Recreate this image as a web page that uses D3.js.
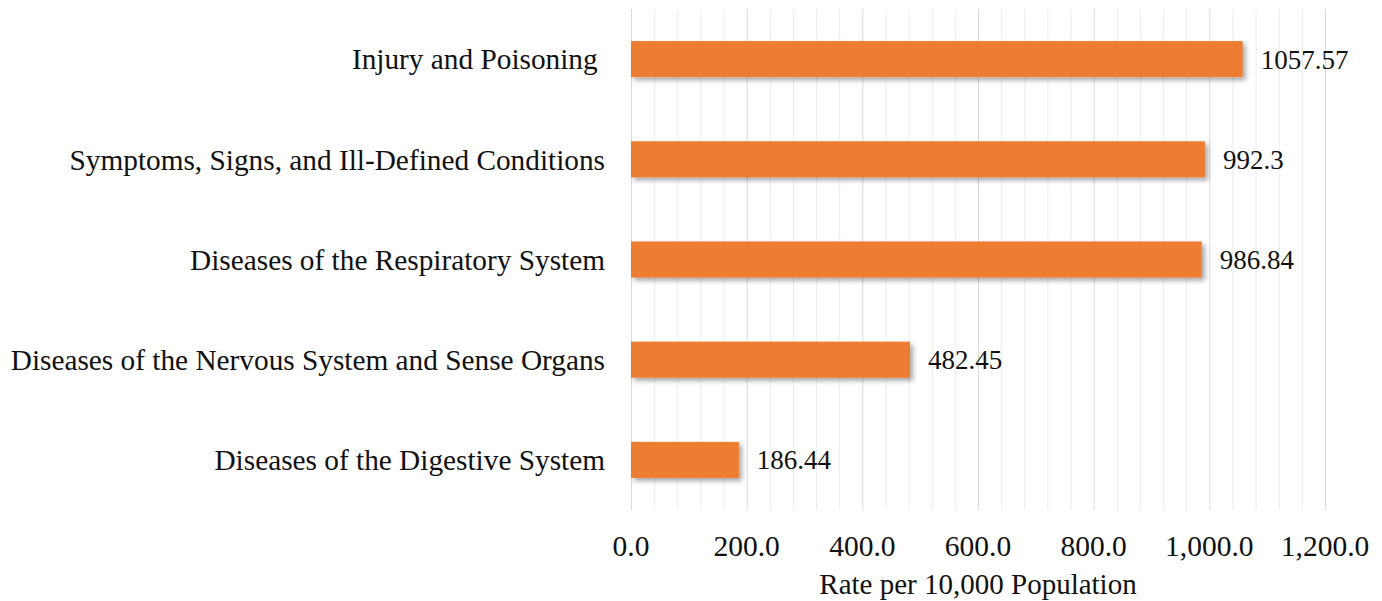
<!DOCTYPE html>
<html>
<head>
<meta charset="utf-8">
<script src="https://cdn.jsdelivr.net/npm/d3@7"></script>
<style>
  body { margin: 0; background: #fff; }
  text { font-family: "Liberation Serif", "Times New Roman", serif; fill: #111; white-space: pre; }
</style>
</head>
<body>
<svg id="chart" width="1382" height="601"></svg>
<script>
var categories = ["Injury and Poisoning ",
                  "Symptoms, Signs, and Ill-Defined Conditions",
                  "Diseases of the Respiratory System",
                  "Diseases of the Nervous System and Sense Organs",
                  "Diseases of the Digestive System"];
var rates = [1057.57, 992.3, 986.84, 482.45, 186.44];
var valueLabels = ["1057.57", "992.3", "986.84", "482.45", "186.44"];
var majorTicks = [0, 200, 400, 600, 800, 1000, 1200];
var axisTitle = "Rate per 10,000 Population";

var svg = d3.select("#chart");
var margin = {left: 631, right: 57, top: 9, bottom: 91};
var width = 1382 - margin.left - margin.right,
    height = 601 - margin.top - margin.bottom;

var x = d3.scaleLinear().domain([0, 1200]).range([0, width]);
var y = d3.scaleBand().domain(categories).range([0, height]).paddingInner(0.64).paddingOuter(0.32);

var defs = svg.append("defs");
var shadow = defs.append("filter").attr("id", "shadow")
    .attr("x", "-5%").attr("y", "-20%").attr("width", "115%").attr("height", "160%");
shadow.append("feDropShadow")
    .attr("dx", 3).attr("dy", 3).attr("stdDeviation", 2.5)
    .attr("flood-color", "#000").attr("flood-opacity", 0.35);

var g = svg.append("g").attr("transform", "translate(" + margin.left + "," + margin.top + ")");

// minor gridlines every 40
var minor = d3.range(0, 1201, 40).filter(function(d) { return d % 200 != 0; });
g.append("g").selectAll("line")
    .data(minor)
    .enter().append("line")
    .attr("x1", function(d) { return x(d) + 0.5; })
    .attr("x2", function(d) { return x(d) + 0.5; })
    .attr("y1", 0).attr("y2", height)
    .attr("stroke", "#ececec").attr("stroke-width", 1);

g.append("g").selectAll("line")
    .data(majorTicks)
    .enter().append("line")
    .attr("x1", function(d) { return x(d) + 0.5; })
    .attr("x2", function(d) { return x(d) + 0.5; })
    .attr("y1", 0).attr("y2", height)
    .attr("stroke", "#d9d9d9").attr("stroke-width", 1);

// bars
g.append("g").selectAll("rect")
    .data(rates)
    .enter().append("rect")
    .attr("x", 0)
    .attr("y", function(d, i) { return y(categories[i]); })
    .attr("width", function(d) { return x(d); })
    .attr("height", y.bandwidth())
    .attr("fill", "#ed7d31")
    .attr("filter", "url(#shadow)");

// value labels
g.append("g").selectAll("text")
    .data(rates)
    .enter().append("text")
    .attr("x", function(d) { return x(d) + 18; })
    .attr("y", function(d, i) { return y(categories[i]) + y.bandwidth() / 2; })
    .attr("dy", "0.35em")
    .attr("font-size", 27)
    .text(function(d, i) { return valueLabels[i]; });

// category labels
g.append("g").selectAll("text")
    .data(categories)
    .enter().append("text")
    .attr("x", -26)
    .attr("y", function(d) { return y(d) + y.bandwidth() / 2; })
    .attr("dy", "0.35em")
    .attr("text-anchor", "end")
    .attr("font-size", 29.3)
    .text(function(d) { return d; });

// x axis labels
var fmt = d3.format(",.1f");
g.append("g").selectAll("text")
    .data(majorTicks)
    .enter().append("text")
    .attr("x", function(d) { return x(d); })
    .attr("y", height + 36)
    .attr("dy", "0.35em")
    .attr("text-anchor", "middle")
    .attr("font-size", 29.5)
    .text(function(d) { return fmt(d); });

svg.append("text")
    .attr("x", margin.left + x(600))
    .attr("y", 584)
    .attr("dy", "0.35em")
    .attr("text-anchor", "middle")
    .attr("font-size", 29)
    .text(axisTitle);
</script>
</body>
</html>
